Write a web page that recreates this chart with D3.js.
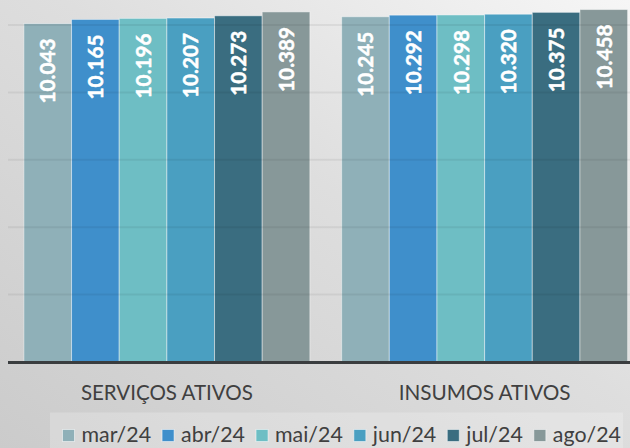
<!DOCTYPE html>
<html>
<head>
<meta charset="utf-8">
<script src="https://cdn.jsdelivr.net/npm/d3@7"></script>
<style>
  html, body { margin: 0; padding: 0; background: #d8d8d8; }
  svg { display: block; }
</style>
</head>
<body>
<script>
// ---- data ----
const categories = ["SERVIÇOS ATIVOS", "INSUMOS ATIVOS"];
const months = ["mar/24", "abr/24", "mai/24", "jun/24", "jul/24", "ago/24"];
const servicosAtivos = [10043, 10165, 10196, 10207, 10273, 10389];
const insumosAtivos = [10245, 10292, 10298, 10320, 10375, 10458];
const gridTicks = [2000, 4000, 6000, 8000, 10000];
const colors = ["#8fb0b8", "#3f8fcb", "#6ebec4", "#4a9fc1", "#3a6d80", "#879899"];

const seriesByCategory = [servicosAtivos, insumosAtivos];

const W = 630, H = 448;
const svg = d3.select("body").append("svg").attr("width", W).attr("height", H);

// background
const defs = svg.append("defs");
const bg = defs.append("linearGradient").attr("id", "bg")
  .attr("x1", "1").attr("y1", "0").attr("x2", "0").attr("y2", "1");
bg.append("stop").attr("offset", "0%").attr("stop-color", "#f6f6f6");
bg.append("stop").attr("offset", "45%").attr("stop-color", "#dedede");
bg.append("stop").attr("offset", "100%").attr("stop-color", "#cbcbcb");
svg.append("rect").attr("width", W).attr("height", H).attr("fill", "url(#bg)");

// scales
const x = d3.scaleBand().domain(categories).range([8, 643.5]).paddingInner(0.1).paddingOuter(0.05);
const xInner = d3.scaleBand().domain(months).range([0, x.bandwidth()]);
const y = d3.scaleLinear().domain([0, 12000]).range([362, -42.4]);

const fmt = d3.formatLocale({ decimal: ",", thousands: ".", grouping: [3], currency: ["", ""] }).format(",d");

// bars
const rows = [];
categories.forEach((c, ci) => months.forEach((m, mi) => rows.push({ c, m, mi, v: seriesByCategory[ci][mi] })));

svg.append("g").selectAll("rect").data(rows).join("rect")
  .attr("x", d => x(d.c) + xInner(d.m))
  .attr("y", d => y(d.v))
  .attr("width", xInner.bandwidth())
  .attr("height", d => y(0) - y(d.v))
  .attr("fill", d => colors[d.mi])
  .attr("stroke", "rgba(255,255,255,0.45)")
  .attr("stroke-width", 1);

// gridlines (drawn over bars, faint)
svg.append("g").selectAll("line").data(gridTicks).join("line")
  .attr("x1", 8).attr("x2", 650)
  .attr("y1", d => y(d)).attr("y2", d => y(d))
  .attr("stroke", "rgba(0,0,0,0.06)").attr("stroke-width", 2);

// baseline axis
svg.append("line").attr("x1", 8).attr("x2", 650)
  .attr("y1", y(0) + 0.5).attr("y2", y(0) + 0.5)
  .attr("stroke", "#3a3d3f").attr("stroke-width", 3);

// value labels
svg.append("g").selectAll("text").data(rows).join("text")
  .attr("transform", d => `translate(${x(d.c) + xInner(d.m) + xInner.bandwidth() / 2},${y(d.v) + 15}) rotate(-90)`)
  .attr("text-anchor", "end")
  .attr("dy", "0.36em")
  .attr("fill", "#ffffff")
  .attr("stroke", "#ffffff")
  .attr("stroke-width", 0.5)
  .attr("font-family", "Lato, 'Open Sans', sans-serif")
  .attr("font-weight", "bold")
  .attr("font-size", 21.5)
  .attr("textLength", 65)
  .attr("lengthAdjust", "spacingAndGlyphs")
  .text(d => fmt(d.v));

// category labels
svg.append("g").selectAll("text").data(categories).join("text")
  .attr("x", d => x(d) + x.bandwidth() / 2)
  .attr("y", 400)
  .attr("text-anchor", "middle")
  .attr("fill", "#404040")
  .attr("font-family", "Lato, 'Open Sans', sans-serif")
  .attr("font-size", 21)
  .attr("textLength", 172)
  .attr("lengthAdjust", "spacingAndGlyphs")
  .text(d => d);

// legend
svg.append("rect").attr("x", 50).attr("y", 412.5).attr("width", 573).attr("height", 40)
  .attr("fill", "rgba(255,255,255,0.22)");

const legend = svg.append("g");
const sq = 12, gapA = 7, gapB = 11, legStart = 62.5, legEnd = 621;
const items = legend.selectAll("g").data(months).join("g");
items.append("rect").attr("width", sq).attr("height", sq).attr("y", 429.5)
  .attr("fill", (d, i) => colors[i])
  .attr("stroke", "rgba(255,255,255,0.5)").attr("stroke-width", 1);
const legText = items.append("text").attr("y", 442)
  .attr("fill", "#404040")
  .attr("font-family", "Lato, 'Open Sans', sans-serif")
  .attr("font-size", 21.5)
  .text(d => d);
let sumText = 0;
const widths = [];
legText.each(function () { const w = this.getComputedTextLength(); widths.push(w); sumText += w; });
const fixed = months.length * (sq + gapA) + (months.length - 1) * gapB;
const k = (legEnd - legStart - fixed) / sumText;
let cx = legStart;
items.each(function (d, i) {
  const g = d3.select(this);
  g.select("rect").attr("x", cx);
  const tw = widths[i] * k;
  g.select("text").attr("x", cx + sq + gapA)
    .attr("textLength", tw).attr("lengthAdjust", "spacingAndGlyphs");
  cx += sq + gapA + tw + gapB;
});
</script>
</body>
</html>
